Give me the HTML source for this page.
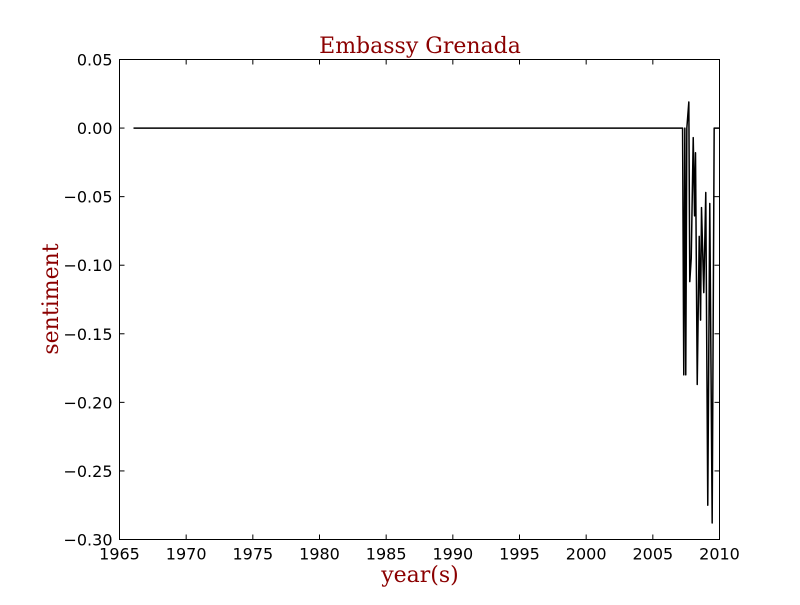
<!DOCTYPE html>
<html><head><meta charset="utf-8"><style>
html,body{margin:0;padding:0;background:#fff;}
svg text{font-family:"DejaVu Sans","Liberation Sans",sans-serif;}
</style></head><body>
<svg id="chart" width="800" height="600" xmlns="http://www.w3.org/2000/svg">
<rect width="800" height="600" fill="#fff"/>
<text x="420" y="53" text-anchor="middle" font-size="22" fill="#8b0000" style="font-family:'DejaVu Serif','Liberation Serif',serif">Embassy Grenada</text>
<text x="420" y="582" text-anchor="middle" font-size="22" fill="#8b0000" style="font-family:'DejaVu Serif','Liberation Serif',serif">year(s)</text>
<text transform="translate(58,299) rotate(-90)" text-anchor="middle" font-size="22" fill="#8b0000" style="font-family:'DejaVu Serif','Liberation Serif',serif">sentiment</text>
<g id="ticks"></g>
<path id="line" fill="none" stroke="#000" stroke-width="1.5" stroke-linejoin="round"/>
<rect x="119.5" y="59.5" width="600" height="480" fill="none" stroke="#000" stroke-width="1"/>
</svg>
<script>
const years = [1966.05,2007.23,2007.32,2007.40,2007.47,2007.55,2007.70,2007.77,2007.88,2008.03,2008.13,2008.20,2008.33,2008.48,2008.58,2008.65,2008.82,2008.97,2009.12,2009.27,2009.45,2009.60,2010.0];
const sentiment = [0,0,-0.18,0,-0.18,0,0.019,-0.112,-0.095,-0.007,-0.064,-0.018,-0.187,-0.079,-0.14,-0.058,-0.12,-0.047,-0.275,-0.055,-0.288,0,0];
const xTicks = [1965,1970,1975,1980,1985,1990,1995,2000,2005,2010];
const yTicks = [0.05,0.00,-0.05,-0.10,-0.15,-0.20,-0.25,-0.30];

const X0=119.5,X1=719.5,Y0=59.5,Y1=539.5;
const xS = v => X0 + (v-1965)/(2010-1965)*(X1-X0);
const yS = v => Y0 + (0.05-v)/(0.35)*(Y1-Y0);
const NS="http://www.w3.org/2000/svg";
const g=document.getElementById('ticks');
function mk(tag,attrs,parent){const e=document.createElementNS(NS,tag);for(const k in attrs)e.setAttribute(k,attrs[k]);parent.appendChild(e);return e;}
xTicks.forEach(t=>{
  const x=xS(t);
  const a=mk('line',{x1:x,x2:x,y1:Y1,y2:Y1-5,stroke:'#000'},g);
  
  
  const b=mk('line',{x1:x,x2:x,y1:Y0,y2:Y0+5,stroke:'#000'},g);
  
  
  const tx=mk('text',{x:x,y:Y1+20,'text-anchor':'middle','font-size':16},g);
  tx.textContent=t;
  
  
});
yTicks.forEach(t=>{
  const y=yS(t);
  const a=mk('line',{x1:X0,x2:X0+5,y1:y,y2:y,stroke:'#000'},g);
  
  
  const b=mk('line',{x1:X1,x2:X1-5,y1:y,y2:y,stroke:'#000'},g);
  
  
  const tx=mk('text',{x:X0-7,y:y+6,'text-anchor':'end','font-size':16},g);
  tx.textContent=(t<0?'\u2212':'')+Math.abs(t).toFixed(2);
  
  
});
document.getElementById('line').setAttribute('d', years.map((yr,i)=>(i?'L':'M')+xS(yr).toFixed(2)+','+yS(sentiment[i]).toFixed(2)).join(' '));
</script>
</body></html>
